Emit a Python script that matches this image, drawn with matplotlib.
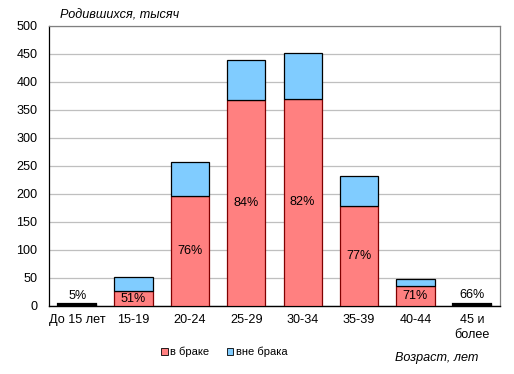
import matplotlib
matplotlib.use("Agg")
import matplotlib.pyplot as plt
from matplotlib.patches import Patch
import numpy as np

plt.rcParams['font.family'] = ['Liberation Sans', 'DejaVu Sans']

categories = ["До 15 лет", "15-19", "20-24", "25-29", "30-34", "35-39", "40-44", "45 и\nболее"]
married = [0.15, 26, 196, 368, 370, 178, 35, 2.6]
unmarried = [2.85, 25, 61, 71, 81, 54, 14, 1.4]
pct_labels = ["5%", "51%", "76%", "84%", "82%", "77%", "71%", "66%"]
yticks = [0, 50, 100, 150, 200, 250, 300, 350, 400, 450, 500]

red = "#FF8080"
blue = "#80CCFF"

fig = plt.figure(figsize=(5.14, 3.74), dpi=100)
ax = fig.add_axes([49/514, 1-306/374, 451/514, 280/374])

x = np.arange(len(categories))
w = 0.68
ax.bar(x, married, w, color=red, edgecolor="#800000", linewidth=0.9, zorder=3)
ax.bar(x, unmarried, w, bottom=married, color=blue, edgecolor="black", linewidth=0.9, zorder=3)
# small bars drawn thick black
for i in (0, 7):
    tot = married[i] + unmarried[i]
    ax.bar(x[i], tot, w, color="none", edgecolor="black", linewidth=1.6, zorder=4)

fs = 9.1
for i, lab in enumerate(pct_labels):
    tot = married[i] + unmarried[i]
    if tot < 20:
        ax.text(x[i], tot + 5, lab, ha="center", va="bottom", fontsize=fs, zorder=5)
    else:
        ax.text(x[i], married[i] / 2, lab, ha="center", va="center", fontsize=fs, zorder=5)

ax.set_xlim(-0.5, len(categories) - 0.5)
ax.set_ylim(0, 500)
ax.set_yticks(yticks)
ax.set_xticks(x)
ax.set_xticklabels(categories, fontsize=fs, linespacing=1.3)
ax.tick_params(axis="y", labelsize=fs, length=0, pad=8.5)
ax.tick_params(axis="x", length=0, pad=6)
ax.yaxis.grid(True, color="#BFBFBF", linewidth=0.9, zorder=0)
ax.set_axisbelow(True)
for side in ("top", "right"):
    ax.spines[side].set_color("#808080")
    ax.spines[side].set_linewidth(0.9)
ax.spines["left"].set_color("black")
ax.spines["bottom"].set_color("black")
ax.spines["left"].set_linewidth(0.9)
ax.spines["bottom"].set_linewidth(1.0)

fig.text(60/514, 1-15/374, "Родившихся, тысяч", fontsize=fs, style="italic", ha="left", va="center")
fig.text(478/514, 1-358/374, "Возраст, лет", fontsize=fs, style="italic", ha="right", va="center")

handles = [Patch(facecolor=red, edgecolor="black", linewidth=0.6, label="в браке"),
           Patch(facecolor=blue, edgecolor="black", linewidth=0.6, label="вне брака")]
fig.legend(handles=handles, loc="center", bbox_to_anchor=(224/514, 1-352/374), ncol=2,
           frameon=False, fontsize=8, handlelength=0.6, handleheight=0.6,
           handletextpad=0.2, columnspacing=1.6)

fig.savefig("out.png", dpi=100)
